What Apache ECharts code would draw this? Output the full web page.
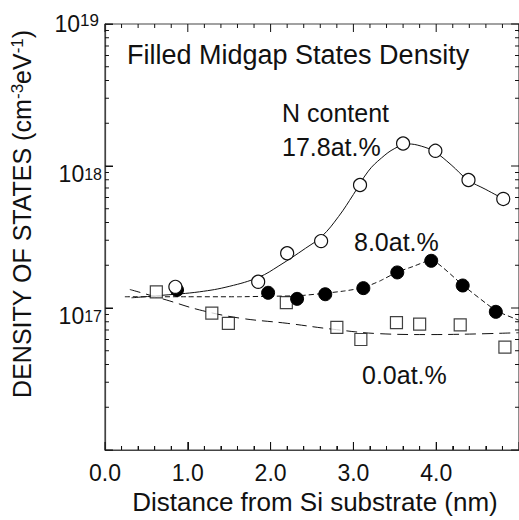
<!DOCTYPE html>
<html>
<head>
<meta charset="utf-8">
<script src="https://cdn.jsdelivr.net/npm/echarts@6/dist/echarts.min.js"></script>
<style>
  html, body { margin: 0; padding: 0; background: #fff; }
  #chart { width: 519px; height: 520px; }
</style>
</head>
<body>
<div id="chart"></div>
<script>
// Measured midgap state densities (cm^-3 eV^-1) versus distance from the Si substrate (nm)
const n178X = [0.85, 1.85, 2.20, 2.61, 3.08, 3.60, 3.99, 4.39, 4.81];
const n178Y = [1.41e17, 1.53e17, 2.43e17, 2.96e17, 7.35e17, 1.44e18, 1.28e18, 7.97e17, 5.86e17];

const n80X = [0.87, 1.97, 2.32, 2.66, 3.12, 3.53, 3.94, 4.32, 4.72];
const n80Y = [1.34e17, 1.28e17, 1.16e17, 1.25e17, 1.38e17, 1.78e17, 2.15e17, 1.44e17, 9.4e16];

const n00X = [0.62, 1.29, 1.49, 2.19, 2.80, 3.09, 3.52, 3.80, 4.29, 4.83];
const n00Y = [1.30e17, 9.2e16, 7.8e16, 1.09e17, 7.3e16, 6.0e16, 7.9e16, 7.7e16, 7.6e16, 5.3e16];

// Guide curves through each data set
const fit178X = [0.32, 0.70, 1.14, 1.50, 1.86, 2.10, 2.42, 2.62, 2.82, 3.00, 3.18, 3.34, 3.50, 3.66, 3.82, 3.98, 4.18, 4.38, 4.60, 4.82];
const fit178Y = [1.18e17, 1.23e17, 1.30e17, 1.42e17, 1.65e17, 1.98e17, 2.63e17, 3.2e17, 4.4e17, 6.3e17, 9.2e17, 1.14e18, 1.33e18, 1.43e18, 1.38e18, 1.26e18, 1.02e18, 8.0e17, 6.83e17, 5.83e17];

const fit80X = [0.24, 1.0, 1.6, 2.0, 2.34, 2.66, 2.90, 3.12, 3.32, 3.52, 3.72, 3.94, 4.32, 4.72, 5.0];
const fit80Y = [1.20e17, 1.20e17, 1.20e17, 1.21e17, 1.22e17, 1.27e17, 1.32e17, 1.39e17, 1.55e17, 1.78e17, 1.96e17, 2.18e17, 1.45e17, 9.6e16, 8.2e16];

const fit00X = [0.30, 0.74, 1.14, 1.62, 2.20, 2.74, 3.30, 3.90, 4.40, 5.0];
const fit00Y = [1.35e17, 1.14e17, 9.7e16, 8.5e16, 7.8e16, 7.1e16, 6.6e16, 6.5e16, 6.55e16, 6.7e16];

// Axis ranges and tick layout
const xMin = 0, xMax = 5, xStep = 1, xMinorStep = 0.2;
const yMinExp = 16, yMaxExp = 19;

// Plot box (pixels)
const gridLeft = 105, gridTop = 24, gridW = 416.67, gridH = 426;
const majorLen = 8, minorLen = 4;

const FONT = "'Liberation Sans', Arial, Helvetica, sans-serif";
const INK = '#111';
const FRAME = '#444';

const zip = (xs, ys) => xs.map((x, i) => [x, ys[i]]);

const yLo = Math.pow(10, yMinExp), yHi = Math.pow(10, yMaxExp);

// Tick values on both axes
const xMajor = [], xMinor = [];
for (let i = 0; i <= Math.round((xMax - xMin) / xMinorStep); i++) {
  const v = +(xMin + i * xMinorStep).toFixed(6);
  if (i % Math.round(xStep / xMinorStep) === 0) xMajor.push(v); else xMinor.push(v);
}
const yMajor = [], yMinor = [];
for (let e = yMinExp; e <= yMaxExp; e++) {
  yMajor.push(yLo * Math.pow(10, e - yMinExp));
  if (e < yMaxExp) for (let k = 2; k <= 9; k++) yMinor.push(k * Math.pow(10, e));
}

// Inward tick segments on all four sides, expressed in axis units
const unitsPerPxX = (xMax - xMin) / gridW;
const decadesPerPx = (yMaxExp - yMinExp) / gridH;
const BREAK = ['-', '-'];
const tickSegs = [];
const addSeg = (a, b) => { tickSegs.push(a, b, BREAK); };
const xTick = (v, len) => {
  const f = Math.pow(10, len * decadesPerPx);
  addSeg([v, yLo], [v, yLo * f]);
  addSeg([v, yHi], [v, yHi / f]);
};
const yTick = (v, len) => {
  const d = len * unitsPerPxX;
  addSeg([xMin, v], [xMin + d, v]);
  addSeg([xMax, v], [xMax - d, v]);
};
xMajor.forEach(v => xTick(v, majorLen));
xMinor.forEach(v => xTick(v, minorLen));
yMajor.forEach(v => yTick(v, majorLen));
yMinor.forEach(v => yTick(v, minorLen));

// Closed box around the plot
const boxPath = [[xMin, yLo], [xMax, yLo], [xMax, yHi], [xMin, yHi], [xMin, yLo]];

const chart = echarts.init(document.getElementById('chart'), null, { renderer: 'svg' });

const option = {
  animation: false,
  grid: { left: gridLeft, top: gridTop, width: gridW, height: gridH },
  xAxis: {
    type: 'value', position: 'bottom', min: xMin, max: xMax, interval: xStep,
    axisLine: { show: true, onZero: false, lineStyle: { color: FRAME, width: 1.2 } },
    axisTick: { show: true, inside: true, length: majorLen, lineStyle: { color: INK, width: 1 } },
    minorTick: { show: true, splitNumber: 5, length: minorLen, lineStyle: { color: INK, width: 1 } },
    splitLine: { show: false },
    minorSplitLine: { show: false },
    axisLabel: {
      show: true, margin: 11, color: INK, fontSize: 23, fontFamily: FONT,
      showMaxLabel: false,
      formatter: v => v.toFixed(1)
    },
    name: 'Distance from Si substrate (nm)',
    nameLocation: 'middle',
    nameGap: 38,
    nameTextStyle: { fontSize: 26, color: INK, fontFamily: FONT, padding: [0, 0, 0, 6] }
  },
  yAxis: {
    type: 'log', logBase: 10, position: 'left', min: yLo, max: yHi,
    axisLine: { show: true, onZero: false, lineStyle: { color: FRAME, width: 1.2 } },
    axisTick: { show: true, inside: true, length: majorLen, lineStyle: { color: INK, width: 1 } },
    splitLine: { show: false },
    axisLabel: {
      margin: 3, color: INK, fontFamily: FONT,
      formatter: v => {
        const e = Math.round(Math.log10(v));
        if (e === yMinExp) return '';
        if (e === yMaxExp) return '{t|10}{ts|' + e + '}';
        return '{b|10}{s|' + e + '}';
      },
      rich: {
        b: { fontSize: 23, lineHeight: 24, padding: [16, 0, 0, 0], color: INK, fontFamily: FONT },
        s: { fontSize: 16, lineHeight: 16, padding: [12, 0, 0, 0], verticalAlign: 'top', color: INK, fontFamily: FONT },
        t: { fontSize: 23, lineHeight: 24, color: INK, fontFamily: FONT },
        ts: { fontSize: 17, lineHeight: 16, padding: [0, 3, 0, 0], verticalAlign: 'top', color: INK, fontFamily: FONT }
      }
    },
    name: '{a|DENSITY OF STATES (cm}{p|-3}{a|eV}{p|-1}{a|)}',
    nameLocation: 'middle',
    nameGap: 70,
    nameTextStyle: {
      color: INK, fontFamily: FONT, padding: [0, 0, 0, 46],
      rich: {
        a: { fontSize: 25, lineHeight: 26, color: INK, fontFamily: FONT },
        p: { fontSize: 17, lineHeight: 16, verticalAlign: 'top', color: INK, fontFamily: FONT }
      }
    }
  },
  graphic: [
    { type: 'text', left: 127, top: 41, style: { text: 'Filled Midgap States Density', fontSize: 27, fontFamily: FONT, fill: INK } },
    { type: 'text', left: 282, top: 100, style: { text: 'N content', fontSize: 25, fontFamily: FONT, fill: INK } },
    { type: 'text', left: 282, top: 134, style: { text: '17.8at.%', fontSize: 25, fontFamily: FONT, fill: INK } },
    { type: 'text', left: 354, top: 229, style: { text: '8.0at.%', fontSize: 25, fontFamily: FONT, fill: INK } },
    { type: 'text', left: 362, top: 362, style: { text: '0.0at.%', fontSize: 25, fontFamily: FONT, fill: INK } }
  ],
  series: [
    {
      name: 'box', type: 'line', data: boxPath, clip: false, silent: true,
      showSymbol: false, symbol: 'none', z: 6,
      lineStyle: { color: FRAME, width: 1.2 }
    },
    {
      name: 'ticks', type: 'line', data: tickSegs, clip: false, silent: true,
      showSymbol: false, symbol: 'none', connectNulls: false, z: 6,
      lineStyle: { color: INK, width: 1 }
    },
    {
      name: 'fit 0.0', type: 'line',
      data: zip(fit00X, fit00Y), smooth: 0.4, showSymbol: false, symbol: 'none', silent: true, z: 1,
      lineStyle: { color: INK, width: 1, type: [11, 6] }
    },
    {
      name: 'fit 8.0', type: 'line',
      data: zip(fit80X, fit80Y), smooth: 0.15, showSymbol: false, symbol: 'none', silent: true, z: 1,
      lineStyle: { color: INK, width: 1, type: [5, 3] }
    },
    {
      name: 'fit 17.8', type: 'line',
      data: zip(fit178X, fit178Y), smooth: 0.4, showSymbol: false, symbol: 'none', silent: true, z: 1,
      lineStyle: { color: INK, width: 1 }
    },
    {
      name: '0.0at.%', type: 'scatter',
      data: zip(n00X, n00Y), symbol: 'rect', symbolSize: 12, z: 3,
      itemStyle: { color: '#fff', borderColor: INK, borderWidth: 1.2 }
    },
    {
      name: '8.0at.%', type: 'scatter',
      data: zip(n80X, n80Y), symbol: 'circle', symbolSize: 13, z: 4,
      itemStyle: { color: '#000', borderColor: '#000', borderWidth: 1, opacity: 1 }
    },
    {
      name: '17.8at.%', type: 'scatter',
      data: zip(n178X, n178Y), symbol: 'circle', symbolSize: 13, z: 5,
      itemStyle: { color: '#fff', borderColor: INK, borderWidth: 1.2, opacity: 1 }
    }
  ]
};

chart.setOption(option);
</script>
</body>
</html>
